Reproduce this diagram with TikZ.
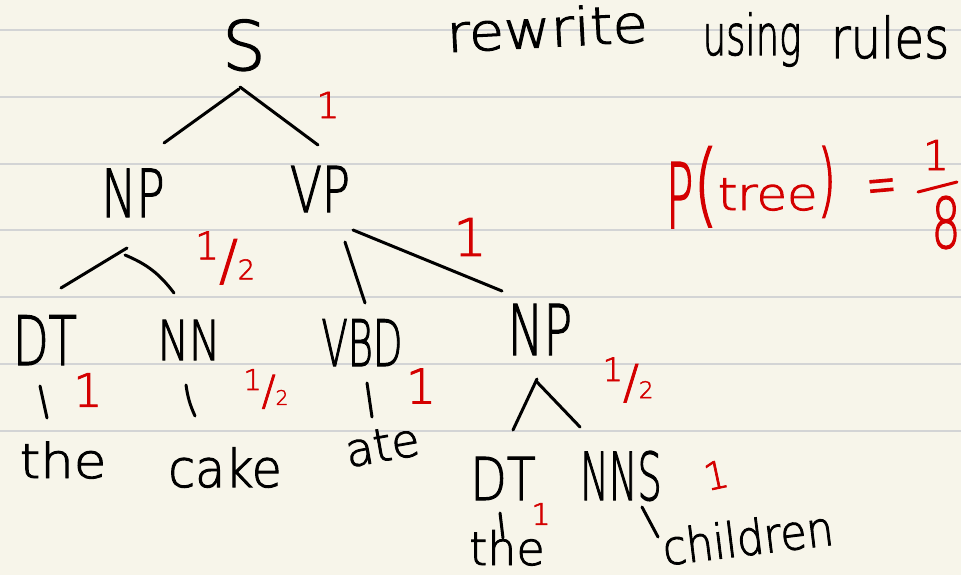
\documentclass[tikz,border=0pt]{standalone}
\usepackage{fontspec}
\usepackage{graphicx}
\setmainfont{DejaVu Sans ExtraLight}[FakeBold=2]
\definecolor{paper}{RGB}{247,245,234}
\definecolor{ruling}{RGB}{211,212,213}
\definecolor{ink}{RGB}{0,0,0}
\definecolor{pen}{RGB}{212,0,0}
% horizontal squeeze of a piece of text, and a font size in points
\newcommand\sq[2]{\scalebox{#1}[1]{#2}}
\newcommand\fs[1]{\fontsize{#1}{#1}\selectfont}
% handwritten one-half mark
\newcommand\halfmark{{\fs{38}\raisebox{20pt}{1}}{\fs{55}/}{\fs{27}2}}

\begin{document}
\begin{tikzpicture}[x=1pt,y=-1pt,
  word/.style={inner sep=0pt, anchor=base, text=ink},
  prob/.style={inner sep=0pt, text=pen},
  branch/.style={draw=ink, line width=3pt, line cap=round, line join=round},
  redline/.style={draw=pen, line width=3pt, line cap=round},
  ]
\fill[paper] (0,0) rectangle (961,575);
\useasboundingbox (0,0) rectangle (961,575);
\foreach \y in {30,97,163.5,230,297,364,431}
  \draw[ruling, line width=2pt] (0,\y) -- (961,\y);

% tree labels
\node[word, font=\fs{68}] (S) at (244,70) {S};
\node[word, font=\fs{66}] (NP) at (133,217) {\sq{0.71}{NP}};
\node[word, font=\fs{63}] (VP) at (320,212) {\sq{0.74}{VP}};
\node[word, font=\fs{68}] (DT) at (45,365) {\sq{0.68}{DT}};
\node[word, font=\fs{55}] (NN) at (189,360) {\sq{0.76}{NN}};
\node[word, font=\fs{64}] (VBD) at (362,366) {\sq{0.6}{VBD}};
\node[word, font=\fs{70}] (NPb) at (540,355) {\sq{0.68}{NP}};
\node[word, font=\fs{59}] (DTb) at (503,500) {\sq{0.8}{DT}};
\node[word, font=\fs{66}] (NNS) at (621,500) {\sq{0.58}{NNS}};

% words
\node[word, font=\fs{48}] (the) at (63,478) {\sq{1.1}{the}};
\node[word, font=\fs{52}] (cake) at (225,487) {\sq{0.94}{cake}};
\node[word, font=\fs{46}, rotate=10] (ate) at (385,461) {ate};
\node[word, font=\fs{46}] (theb) at (507,565) {\sq{1.0}{the}};
\node[word, font=\fs{48}, rotate=7] (children) at (750,555) {\sq{0.89}{children}};

% heading
\node[word, font=\fs{52}, rotate=3] (rewrite) at (548,47) {\sq{1.1}{rewrite}};
\node[word, font=\fs{56}] (using) at (752,55) {\sq{0.66}{using}};
\node[word, font=\fs{56}] (rules) at (890,58) {\sq{0.86}{rules}};

% branches
\draw[branch] ([shift={(-5,19)}]S.base) -- ([shift={(31,-74)}]NP.base);
\draw[branch] ([shift={(-4,17)}]S.base) -- ([shift={(-2,-67)}]VP.base);
\draw[branch] ([shift={(-6,31)}]NP.base) -- ([shift={(16,-77)}]DT.base);
\draw[branch] ([shift={(-8,38)}]NP.base) to[bend left=15] ([shift={(-15,-67)}]NN.base);
\draw[branch] ([shift={(25,30)}]VP.base) -- ([shift={(3,-63)}]VBD.base);
\draw[branch] ([shift={(33,18)}]VP.base) -- ([shift={(-38,-64)}]NPb.base);
\draw[branch] ([shift={(-3,24)}]NPb.base) -- ([shift={(10,-70)}]DTb.base);
\draw[branch] ([shift={(-4,26)}]NPb.base) -- ([shift={(-41,-73)}]NNS.base);
\draw[branch] ([shift={(-5,21)}]DT.base) -- ([shift={(-16,-60)}]the.base);
\draw[branch] ([shift={(-3,25)}]NN.base) to[bend right=8] ([shift={(-30,-71)}]cake.base);
\draw[branch] ([shift={(5,17)}]VBD.base) -- ([shift={(-13,-44)}]ate.base);
\draw[branch] ([shift={(-3,13)}]DTb.base) -- ([shift={(-4,-27)}]theb.base);
\draw[branch] ([shift={(21,7)}]NNS.base) -- ([shift={(-92,-18)}]children.base);

% rule probabilities
\node[prob, font=\fs{36}] (pS) at (328,105) {1};
\node[prob] (pNP) at (225,258) {\halfmark};
\node[prob, font=\fs{52}] (pVP) at (470,237) {1};
\node[prob, font=\fs{46}] (pDT) at (88,390) {1};
\node[prob] (pNN) at (266,389) {\scalebox{0.75}{\halfmark}};
\node[prob, font=\fs{48}] (pVBD) at (421,386) {1};
\node[prob] (pNPb) at (628,380) {\scalebox{0.85}{\halfmark}};
\node[prob, font=\fs{30}] (pDTb) at (541,514) {1};
\node[prob, font=\fs{38}, rotate=12] (pNNS) at (716,475) {1};

% tree probability
\node[prob, anchor=base west, font=\fs{90}] (ptree) at (666,228)
  {\sq{0.5}{P}\sq{0.7}{\raisebox{13pt}{(}}\sq{1.1}{\fs{45}\raisebox{18pt}{tree}}\sq{0.6}{\fs{80}\raisebox{21pt}{)}}};
\node[prob, font=\fs{60}, rotate=5] (eq) at (882,192) {\sq{0.6}{=}};
\node[prob, anchor=base, font=\fs{41}] (fone) at (936,170) {1};
\node[prob, anchor=base, font=\fs{70}] (feight) at (946,248) {\sq{0.65}{8}};
\draw[redline] ([shift={(-18,22)}]fone.base) -- ([shift={(21,12)}]fone.base);
\end{tikzpicture}
\end{document}
